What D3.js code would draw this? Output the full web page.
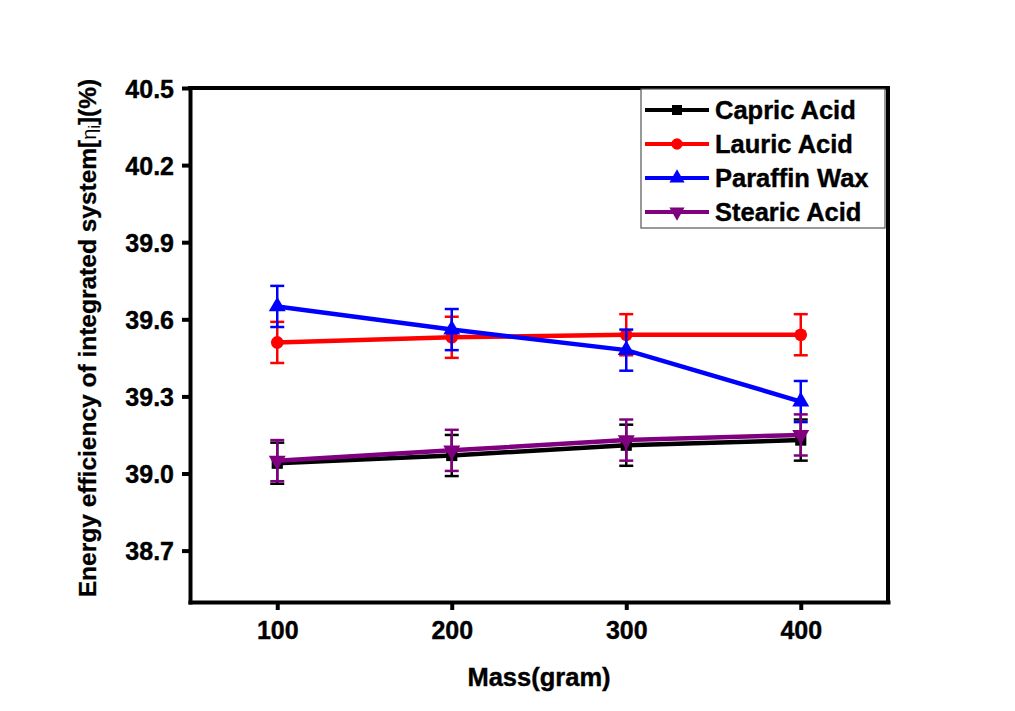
<!DOCTYPE html>
<html>
<head>
<meta charset="utf-8">
<script src="https://cdn.jsdelivr.net/npm/d3@7"></script>
<style>
  html, body { margin: 0; padding: 0; background: #fff; }
  svg { display: block; }
  text { font-family: "Liberation Sans", Arial, sans-serif; font-weight: bold; fill: #000; }
</style>
</head>
<body>
<svg id="chart" width="1015" height="711"></svg>
<script>
const masses = [100, 200, 300, 400];
const seriesNames = ["Capric Acid", "Lauric Acid", "Paraffin Wax", "Stearic Acid"];
const capricValues = [39.04, 39.07, 39.11, 39.13];
const capricErrors = [0.08, 0.08, 0.08, 0.08];
const lauricValues = [39.51, 39.53, 39.54, 39.54];
const lauricErrors = [0.08, 0.08, 0.08, 0.08];
const paraffinValues = [39.65, 39.56, 39.48, 39.28];
const paraffinErrors = [0.08, 0.08, 0.08, 0.08];
const stearicValues = [39.05, 39.09, 39.13, 39.15];
const stearicErrors = [0.08, 0.08, 0.08, 0.08];
const xTicks = [100, 200, 300, 400];
const yTicks = [38.7, 39.0, 39.3, 39.6, 39.9, 40.2, 40.5];

const series = [
  { name: seriesNames[0], values: capricValues, errors: capricErrors, color: "#000000", symbol: d3.symbolSquare, rot: 0 },
  { name: seriesNames[1], values: lauricValues, errors: lauricErrors, color: "#ff0000", symbol: d3.symbolCircle, rot: 0 },
  { name: seriesNames[2], values: paraffinValues, errors: paraffinErrors, color: "#0000ff", symbol: d3.symbolTriangle, rot: 0 },
  { name: seriesNames[3], values: stearicValues, errors: stearicErrors, color: "#800080", symbol: d3.symbolTriangle, rot: 180 }
];

const L = 190, R = 888, T = 88, B = 602;
const svg = d3.select("#chart");
const x = d3.scaleLinear().domain([50, 450]).range([L, R]);
const y = d3.scaleLinear().domain([38.5, 40.5]).range([B, T]);

// frame top & right
svg.append("path")
  .attr("d", `M${L},${T}H${R}V${B}`)
  .attr("fill", "none").attr("stroke", "#000").attr("stroke-width", 4)
  .attr("stroke-linejoin", "miter").attr("stroke-linecap", "square");

// axes
const xAxis = svg.append("g").attr("transform", `translate(0,${B})`)
  .call(d3.axisBottom(x).tickValues(xTicks).tickSizeInner(8).tickSizeOuter(0).tickPadding(10).tickFormat(d3.format("d")));
const yAxis = svg.append("g").attr("transform", `translate(${L},0)`)
  .call(d3.axisLeft(y).tickValues(yTicks).tickSizeInner(8).tickSizeOuter(0).tickPadding(8).tickFormat(d3.format(".1f")));
[xAxis, yAxis].forEach(g => {
  g.select(".domain").attr("stroke-width", 4).attr("stroke", "#000").attr("stroke-linecap", "square");
  g.selectAll(".tick line").attr("stroke-width", 4).attr("stroke", "#000");
  g.selectAll(".tick text").style("font-size", "25px").style("font-family", "Liberation Sans, Arial, sans-serif")
    .style("font-weight", "bold").attr("fill", "#000").attr("stroke", "#000").attr("stroke-width", 0.4);
});
yAxis.selectAll(".tick text").attr("dy", "0.36em");
xAxis.selectAll(".tick text").attr("dy", "0.75em");

// series
const line = d3.line().x((d, i) => x(masses[i])).y(d => y(d));
series.forEach(s => {
  const g = svg.append("g");
  g.append("path").datum(s.values).attr("d", line)
    .attr("fill", "none").attr("stroke", s.color).attr("stroke-width", 4.5);
  s.values.forEach((v, i) => {
    const cx = x(masses[i]);
    const y1 = y(v + s.errors[i]), y2 = y(v - s.errors[i]);
    g.append("line").attr("x1", cx).attr("x2", cx).attr("y1", y1).attr("y2", y2)
      .attr("stroke", s.color).attr("stroke-width", 2.5);
    [y1, y2].forEach(yy => g.append("line").attr("x1", cx - 7).attr("x2", cx + 7).attr("y1", yy).attr("y2", yy)
      .attr("stroke", s.color).attr("stroke-width", 2.5));
    g.append("path").attr("d", d3.symbol().type(s.symbol).size(125)())
      .attr("transform", `translate(${cx},${y(v)}) rotate(${s.rot})`)
      .attr("fill", s.color);
  });
});

// legend
const lg = svg.append("g");
lg.append("rect").attr("x", 641).attr("y", 89).attr("width", 244).attr("height", 139)
  .attr("fill", "#fff").attr("stroke", "#555").attr("stroke-width", 1.2);
series.forEach((s, i) => {
  const yy = 110 + i * 34;
  lg.append("line").attr("x1", 645).attr("x2", 709).attr("y1", yy).attr("y2", yy)
    .attr("stroke", s.color).attr("stroke-width", 4);
  lg.append("path").attr("d", d3.symbol().type(s.symbol).size(100)())
    .attr("transform", `translate(677,${yy}) rotate(${s.rot})`).attr("fill", s.color);
  lg.append("text").attr("x", 715).attr("y", yy).attr("dy", "0.36em")
    .style("font-size", "25.5px").attr("stroke", "#000").attr("stroke-width", 0.4).text(s.name);
});

// axis titles
svg.append("text").attr("x", (L + R) / 2).attr("y", 686).attr("text-anchor", "middle")
  .style("font-size", "25.5px").attr("stroke", "#000").attr("stroke-width", 0.4).text("Mass(gram)");
const yt = svg.append("text").attr("transform", `translate(96,338) rotate(-90)`).attr("text-anchor", "middle")
  .style("font-size", "24.5px").attr("stroke", "#000").attr("stroke-width", 0.3);
yt.append("tspan").text("Energy efficiency of integrated system[");
yt.append("tspan").style("font-weight", "normal").style("font-size", "20px").attr("stroke-width", 0).text("η");
yt.append("tspan").style("font-weight", "normal").style("font-size", "16px").attr("stroke-width", 0).attr("dy", "4").text("i");
yt.append("tspan").attr("dy", "-4").text("](%)");
</script>
</body>
</html>
